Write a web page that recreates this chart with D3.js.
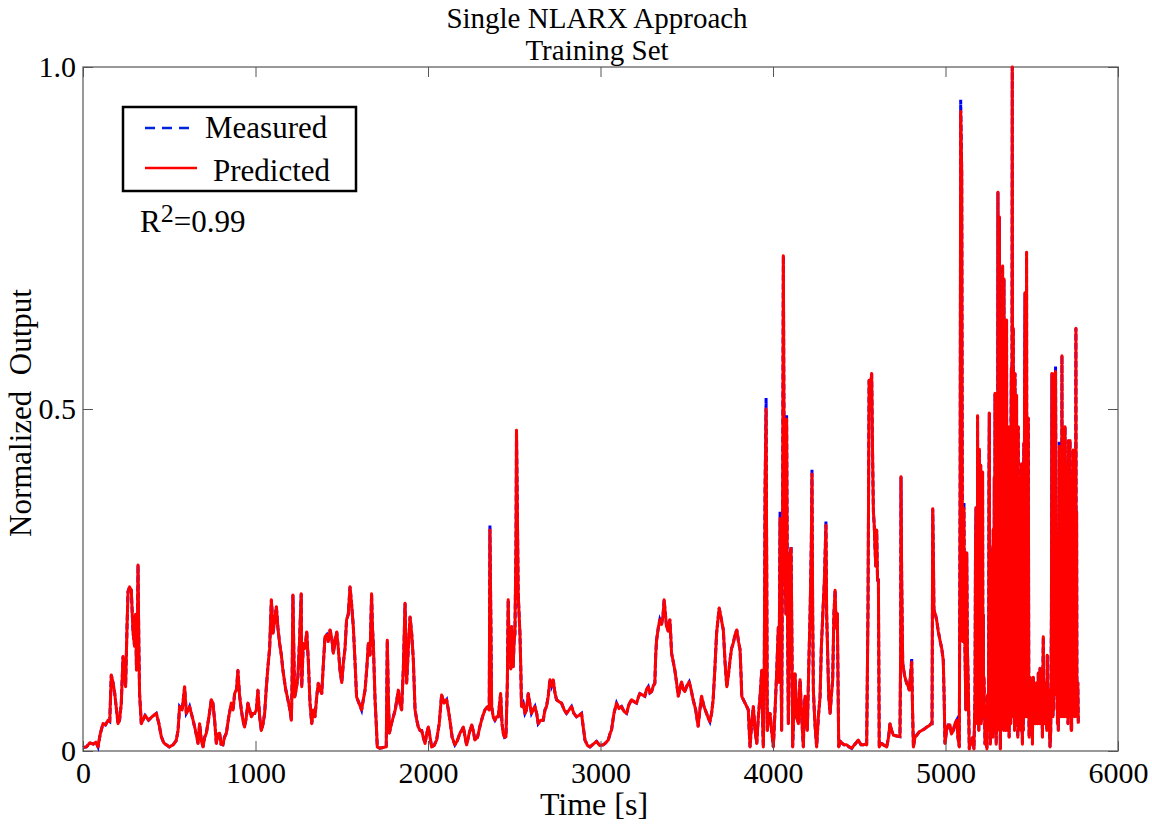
<!DOCTYPE html>
<html>
<head>
<meta charset="utf-8">
<script src="https://cdn.jsdelivr.net/npm/d3@7"></script>
<style>
  html, body { margin: 0; padding: 0; background: #fff; }
  svg { display: block; font-family: "Liberation Serif", "Times New Roman", serif; }
</style>
</head>
<body>
<svg id="chart" width="1152" height="832"></svg>
<script>
// time stamps [s]
const timeSec = [
  // 0 - 1265
  0, 20, 40, 60, 75, 87, 100, 116, 130, 145, 155, 164, 174, 184, 203, 212, 222, 232, 240, 247,
  255, 261, 270, 280, 290, 299, 305, 310, 315, 319, 324, 328, 338, 360, 380, 400, 425, 440, 454, 468,
  483, 500, 522, 540, 551, 560, 575, 589, 599, 610, 618, 638, 652, 667, 676, 686, 696, 705, 715, 730,
  744, 753, 763, 773, 782, 792, 800, 811, 820, 831, 845, 860, 870, 879, 890, 898, 908, 918, 927, 937,
  947, 956, 966, 976, 985, 995, 1005, 1014, 1024, 1034, 1044, 1053, 1062, 1072, 1082, 1092, 1097, 1101, 1111, 1121,
  1130, 1140, 1150, 1159, 1175, 1188, 1200, 1208, 1212, 1217, 1222, 1227, 1236, 1246, 1255, 1265,
  // 1268 - 2514
  1268, 1277, 1287, 1297, 1306, 1316, 1326, 1335, 1345, 1355, 1364, 1374, 1384, 1394, 1403, 1413, 1422, 1432, 1442, 1451,
  1461, 1471, 1480, 1490, 1500, 1509, 1519, 1528, 1538, 1548, 1557, 1567, 1577, 1586, 1600, 1615, 1625, 1635, 1645, 1654,
  1664, 1673, 1678, 1683, 1693, 1700, 1706, 1720, 1740, 1758, 1764, 1770, 1776, 1788, 1799, 1810, 1828, 1837, 1847, 1857,
  1867, 1872, 1876, 1886, 1896, 1906, 1915, 1925, 1935, 1944, 1954, 1963, 1973, 1983, 1992, 2002, 2012, 2021, 2035, 2050,
  2065, 2079, 2093, 2108, 2118, 2127, 2140, 2156, 2170, 2185, 2195, 2205, 2215, 2224, 2238, 2253, 2262, 2272, 2287, 2301,
  2316, 2330, 2345, 2355, 2359, 2364, 2369, 2378, 2388, 2398, 2407, 2421, 2429, 2436, 2444, 2452, 2460, 2465, 2470, 2475,
  2480, 2485, 2490, 2494, 2499, 2504, 2510, 2513,
  // 2518 - 3695
  2518, 2523, 2528, 2533, 2538, 2542, 2552, 2562, 2571, 2581, 2590, 2600, 2610, 2620, 2630, 2639, 2654, 2668, 2678, 2687,
  2697, 2707, 2716, 2726, 2736, 2745, 2760, 2774, 2790, 2803, 2818, 2832, 2846, 2861, 2875, 2890, 2900, 2910, 2925, 2939,
  2958, 2977, 2996, 3016, 3030, 3045, 3055, 3064, 3078, 3093, 3107, 3122, 3136, 3151, 3165, 3180, 3195, 3209, 3219, 3228,
  3243, 3257, 3267, 3277, 3286, 3296, 3306, 3315, 3320, 3325, 3335, 3344, 3354, 3363, 3369, 3376, 3383, 3393, 3402, 3407,
  3412, 3422, 3431, 3441, 3451, 3460, 3470, 3480, 3489, 3500, 3514, 3525, 3537, 3552, 3566, 3576, 3586, 3600, 3615, 3625,
  3634, 3644, 3653, 3663, 3673, 3680, 3688, 3695,
  // 3712 - 5088
  3712, 3722, 3732, 3741, 3751, 3760, 3770, 3780, 3790, 3800, 3809, 3815, 3819, 3828, 3838, 3848, 3857, 3862, 3867, 3876,
  3886, 3896, 3906, 3915, 3925, 3935, 3940, 3944, 3949, 3954, 3960, 3963, 3967, 3975, 3983, 3992, 4002, 4012, 4021, 4031,
  4035, 4041, 4046, 4050, 4055, 4060, 4065, 4070, 4075, 4079, 4084, 4089, 4094, 4099, 4105, 4110, 4114, 4121, 4128, 4137,
  4147, 4152, 4157, 4166, 4176, 4181, 4186, 4192, 4199, 4207, 4215, 4222, 4226, 4230, 4234, 4243, 4253, 4263, 4273, 4280,
  4288, 4298, 4307, 4311, 4315, 4323, 4331, 4338, 4346, 4353, 4360, 4366, 4373, 4377, 4381, 4390, 4398, 4412, 4427, 4441,
  4456, 4475, 4495, 4510, 4524, 4535, 4543, 4551, 4557, 4565, 4572, 4578, 4582, 4587, 4591, 4596, 4601, 4606, 4611, 4614,
  4616, 4623, 4630, 4645, 4659, 4670, 4678, 4688, 4698, 4717, 4736, 4740, 4742, 4746, 4752, 4763, 4775, 4783, 4790, 4797,
  4804, 4809, 4814, 4823, 4833, 4848, 4862, 4877, 4891, 4906, 4916, 4922, 4926, 4930, 4933, 4941, 4949, 4958, 4968, 4978,
  4987, 4992, 4997, 5006, 5016, 5026, 5035, 5045, 5055, 5065, 5072, 5080, 5085, 5088,
  // 5094 - 5770
  5094, 5099, 5103, 5107, 5110, 5113, 5118, 5123, 5127, 5132,
  5138, 5145, 5152, 5158, 5165, 5171, 5174, 5177, 5179, 5181,
  5184, 5186, 5188, 5191, 5193, 5196, 5198, 5200, 5202, 5204,
  5207, 5209, 5212, 5215, 5217, 5219, 5221, 5223, 5229, 5235,
  5240, 5244, 5249, 5252, 5254, 5256, 5258, 5260, 5262, 5264,
  5266, 5269, 5271, 5273, 5275, 5277, 5280, 5283, 5285, 5287,
  5290, 5292, 5294, 5297, 5300, 5302, 5304, 5306, 5308, 5310,
  5312, 5315, 5318, 5321, 5323, 5325, 5327, 5329, 5331, 5333,
  5335, 5337, 5339, 5341, 5343, 5345, 5347, 5350, 5352, 5354,
  5356, 5359, 5361, 5364, 5366, 5369, 5371, 5374, 5376, 5378,
  5380, 5382, 5384, 5387, 5390, 5393, 5395, 5398, 5400, 5403,
  5405, 5407, 5410, 5412, 5414, 5417, 5419, 5422, 5424, 5427,
  5429, 5432, 5434, 5436, 5438, 5441, 5443, 5446, 5448, 5451,
  5454, 5456, 5458, 5461, 5463, 5465, 5468, 5470, 5472, 5475,
  5477, 5480, 5483, 5485, 5488, 5490, 5493, 5495, 5497, 5499,
  5502, 5504, 5507, 5509, 5512, 5514, 5517, 5519, 5522, 5524,
  5527, 5531, 5534, 5538, 5541, 5543, 5546, 5548, 5550, 5552,
  5555, 5557, 5560, 5562, 5564, 5567, 5570, 5572, 5575, 5577,
  5580, 5584, 5587, 5590, 5593, 5596, 5599, 5602, 5606, 5610,
  5614, 5617, 5619, 5621, 5623, 5626, 5628, 5631, 5634, 5636,
  5638, 5641, 5644, 5647, 5649, 5652, 5654, 5657, 5660, 5662,
  5664, 5667, 5669, 5671, 5673, 5675, 5677, 5679, 5681, 5683,
  5686, 5688, 5691, 5693, 5695, 5697, 5700, 5702, 5705, 5707,
  5710, 5712, 5715, 5717, 5720, 5722, 5724, 5726, 5729, 5731,
  5734, 5736, 5739, 5741, 5744, 5746, 5749, 5751, 5754, 5756,
  5758, 5760, 5762, 5764, 5767, 5770
]

// predicted (normalized) output at each time stamp
const predicted = [
  // 0 - 1265
  .005, .006, .012, .010, .013, .006, .025, .040, .038, .045, .043, .111, .100, .084, .040, .045, .070, .138, .120, .094,
  .180, .233, .240, .235, .174, .153, .200, .118, .172, .272, .150, .084, .040, .052, .045, .050, .055, .040, .021, .012,
  .009, .006, .009, .015, .030, .065, .060, .094, .055, .060, .065, .045, .030, .011, .040, .015, .006, .020, .026, .050,
  .075, .070, .045, .011, .025, .026, .010, .009, .020, .026, .050, .070, .060, .084, .090, .118, .080, .060, .045, .035,
  .050, .070, .060, .050, .055, .055, .060, .089, .050, .030, .040, .055, .090, .123, .150, .221, .200, .172, .190, .211,
  .180, .157, .140, .118, .090, .075, .060, .045, .100, .228, .150, .079, .090, .109, .160, .230,
  // 1268 - 2514
  .094, .157, .150, .174, .133, .070, .040, .060, .050, .080, .099, .090, .084, .130, .167, .170, .160, .177, .165, .143,
  .160, .174, .150, .118, .100, .128, .150, .192, .200, .240, .215, .182, .130, .079, .070, .060, .075, .089, .120, .157,
  .140, .230, .180, .157, .075, .040, .006, .004, .005, .006, .162, .080, .026, .040, .050, .060, .089, .070, .060, .120,
  .216, .150, .099, .150, .196, .170, .133, .060, .045, .035, .030, .030, .020, .011, .025, .035, .020, .006, .008, .016,
  .040, .082, .070, .075, .060, .045, .020, .009, .015, .026, .030, .035, .020, .009, .025, .038, .030, .016, .020, .036,
  .050, .060, .065, .060, .323, .200, .065, .050, .045, .050, .050, .084, .040, .026, .020, .021, .100, .221, .150, .162,
  .120, .182, .150, .123, .160, .172, .300, .469,
  // 2518 - 3695
  .350, .230, .200, .172, .120, .065, .070, .055, .060, .084, .070, .055, .060, .065, .055, .040, .045, .045, .060, .065,
  .080, .104, .095, .104, .085, .075, .072, .070, .060, .055, .060, .065, .055, .050, .052, .055, .035, .016, .008, .006,
  .010, .014, .008, .009, .012, .016, .025, .031, .055, .070, .062, .065, .058, .055, .068, .075, .072, .070, .078, .084,
  .082, .080, .090, .094, .085, .087, .095, .099, .140, .162, .180, .192, .185, .200, .221, .200, .182, .175, .192, .170,
  .143, .130, .118, .100, .080, .090, .101, .090, .087, .095, .101, .090, .075, .060, .036, .060, .080, .065, .055, .048,
  .043, .055, .075, .120, .172, .190, .209, .200,
  // 3712 - 5088
  .177, .130, .094, .110, .133, .150, .158, .170, .177, .160, .148, .110, .080, .075, .070, .065, .060, .030, .006, .040,
  .065, .030, .011, .050, .080, .118, .040, .006, .100, .382, .500, .300, .030, .050, .055, .030, .006, .060, .113, .181,
  .100, .340, .150, .030, .300, .724, .400, .274, .200, .485, .200, .040, .150, .284, .296, .150, .006, .060, .113, .050,
  .040, .080, .104, .050, .006, .060, .080, .050, .030, .120, .201, .300, .405, .200, .089, .040, .006, .050, .080, .150,
  .196, .250, .330, .200, .162, .080, .055, .080, .104, .200, .235, .180, .201, .100, .006, .014, .012, .009, .009, .006,
  .004, .010, .016, .009, .009, .010, .009, .215, .542, .530, .552, .420, .350, .330, .298, .270, .323, .250, .250, .100,
  .006, .010, .011, .008, .006, .020, .040, .030, .023, .022, .021, .150, .401, .250, .128, .110, .099, .095, .089, .110,
  .130, .060, .006, .020, .023, .028, .030, .032, .035, .037, .040, .040, .354, .280, .206, .200, .191, .175, .162, .150,
  .133, .080, .011, .030, .038, .038, .025, .030, .040, .045, .020, .006, .400, .935,
  // 5094 - 5770
  .846, .160, .300, .355, .200, .147, .060, .290, .150, .095,
  .003, .015, .010, .020, .003, .080, .300, .356, .050, .350,
  .040, .490, .050, .400, .030, .441, .060, .400, .050, .418,
  .040, .400, .050, .408, .060, .200, .050, .108, .010, .030,
  .003, .082, .030, .400, .494, .050, .300, .010, .147, .250,
  .040, .290, .050, .280, .020, .324, .050, .400, .030, .523,
  .060, .350, .010, .095, .030, .300, .817, .100, .450, .060,
  .781, .100, .003, .090, .380, .487, .050, .420, .709, .080,
  .450, .030, .690, .100, .150, .400, .062, .030, .450, .630,
  .050, .440, .030, .474, .060, .020, .400, .193, .450, .040,
  .480, .560, .100, 1.00, .050, .618, .080, .450, .030, .552,
  .070, .460, .050, .520, .040, .450, .020, .474, .060, .400,
  .050, .173, .380, .030, .350, .420, .050, .010, .300, .030,
  .450, .120, .500, .670, .050, .550, .060, .729, .050, .450,
  .080, .487, .060, .020, .100, .108, .040, .100, .030, .082,
  .090, .010, .100, .108, .040, .100, .050, .090, .040, .095,
  .050, .100, .040, .114, .050, .100, .040, .121, .050, .100,
  .040, .095, .050, .020, .100, .167, .050, .100, .040, .082,
  .050, .100, .030, .140, .050, .090, .040, .040, .006, .030,
  .200, .552, .100, .400, .050, .450, .060, .552, .100, .450,
  .555, .300, .082, .200, .040, .100, .030, .200, .445, .050,
  .400, .356, .050, .380, .060, .578, .080, .400, .050, .062,
  .300, .050, .400, .474, .060, .400, .050, .420, .060, .400,
  .040, .454, .060, .400, .050, .454, .060, .400, .030, .030,
  .300, .050, .350, .440, .060, .400, .050, .395, .100, .618,
  .080, .350, .060, .050, .100, .040
]

// measured output is the same trace except where it pokes above the prediction
const measuredPeaks = [
  [2359, .330], [3960, .516], [4041, .350], [4079, .492], [4105, .300], [4226, .412],
  [4307, .336], [4804, .136], [5088, .952], [5107, .364], [5638, .562], [5660, .452]
]

const xTicks = [0, 1000, 2000, 3000, 4000, 5000, 6000]
const yTicks = [0, 0.5, 1]
const yTickLabels = ['0', '0.5', '1.0']

const n = Math.min(timeSec.length, predicted.length)
const peakMap = new Map(measuredPeaks)
const predData = d3.range(n).map(i => ({ t: timeSec[i], v: predicted[i] }))
const measData = predData.map(d => ({ t: d.t, v: peakMap.has(d.t) ? peakMap.get(d.t) : d.v }))

const svg = d3.select('#chart')
const plotL = 83, plotR = 1118, plotT = 67, plotB = 751

const x = d3.scaleLinear().domain([0, 6000]).range([plotL, plotR])
const y = d3.scaleLinear().domain([0, 1]).range([plotB, plotT])

// frame
svg.append('rect')
  .attr('x', plotL).attr('y', plotT)
  .attr('width', plotR - plotL).attr('height', plotB - plotT)
  .attr('fill', 'none')
  .attr('stroke', '#777')
  .attr('stroke-width', 1.5)

// data
const line = d3.line().x(d => x(d.t)).y(d => y(d.v))

svg.append('path')
  .datum(measData)
  .attr('d', line)
  .attr('fill', 'none')
  .attr('stroke', '#0000ff')
  .attr('stroke-width', 3)
  .attr('stroke-dasharray', '6,3')

svg.append('path')
  .datum(predData)
  .attr('d', line)
  .attr('fill', 'none')
  .attr('stroke', '#ff0000')
  .attr('stroke-width', 3)
  .attr('stroke-linejoin', 'round')

// axes
const xaxis = d3.axisBottom(x).tickValues(xTicks).tickSizeInner(-10).tickSizeOuter(0).tickPadding(11)
  .tickFormat(d3.format('d'))
const xg = svg.append('g')
  .attr('transform', `translate(0, ${plotB})`)
  .call(xaxis)
xg.select('.domain').remove()
xg.selectAll('line').attr('stroke', '#555')
xg.selectAll('text').style('font-size', '30px').attr('fill', '#000')
  .attr('font-family', '"Liberation Serif", serif')

const xtop = svg.append('g')
  .attr('transform', `translate(0, ${plotT})`)
  .call(d3.axisTop(x).tickValues(xTicks).tickSizeInner(-10).tickSizeOuter(0).tickFormat(''))
xtop.select('.domain').remove()
xtop.selectAll('line').attr('stroke', '#555')

const yaxis = d3.axisLeft(y).tickValues(yTicks).tickSizeInner(-10).tickSizeOuter(0).tickPadding(7)
  .tickFormat((d, i) => yTickLabels[i])
const yg = svg.append('g')
  .attr('transform', `translate(${plotL}, 0)`)
  .call(yaxis)
yg.select('.domain').remove()
yg.selectAll('line').attr('stroke', '#555')
yg.selectAll('text').style('font-size', '30px').attr('fill', '#000')
  .attr('font-family', '"Liberation Serif", serif')

const yright = svg.append('g')
  .attr('transform', `translate(${plotR}, 0)`)
  .call(d3.axisRight(y).tickValues(yTicks).tickSizeInner(-10).tickSizeOuter(0).tickFormat(''))
yright.select('.domain').remove()
yright.selectAll('line').attr('stroke', '#555')

// titles
svg.append('text')
  .attr('x', 597).attr('y', 28).attr('text-anchor', 'middle')
  .style('font-size', '29px')
  .text('Single NLARX Approach')
svg.append('text')
  .attr('x', 597).attr('y', 60).attr('text-anchor', 'middle')
  .style('font-size', '29px')
  .text('Training Set')

svg.append('text')
  .attr('x', 594).attr('y', 815)
  .attr('text-anchor', 'middle')
  .style('font-size', '32px')
  .text('Time [s]')

svg.append('text')
  .attr('transform', 'translate(31, 413) rotate(-90)')
  .attr('text-anchor', 'middle')
  .style('font-size', '31px')
  .style('white-space', 'pre')
  .text('Normalized  Output')

// legend
const lg = svg.append('g')
lg.append('rect')
  .attr('x', 123).attr('y', 107).attr('width', 233).attr('height', 84)
  .attr('fill', '#fff').attr('stroke', '#000').attr('stroke-width', 2.5)
lg.append('line')
  .attr('x1', 145).attr('x2', 193).attr('y1', 128).attr('y2', 128)
  .attr('stroke', '#0022dd').attr('stroke-width', 2.5).attr('stroke-dasharray', '10,7')
lg.append('text').attr('x', 205).attr('y', 138).style('font-size', '31px').text('Measured')
lg.append('line')
  .attr('x1', 145).attr('x2', 197).attr('y1', 168).attr('y2', 168)
  .attr('stroke', '#ff0000').attr('stroke-width', 2.5)
lg.append('text').attr('x', 213).attr('y', 181).style('font-size', '31px').text('Predicted')

// R^2 annotation
const r2 = svg.append('text').attr('x', 140).attr('y', 232).style('font-size', '31px')
r2.append('tspan').text('R')
r2.append('tspan').attr('dy', -10).style('font-size', '26px').text('2')
r2.append('tspan').attr('dy', 10).text('=0.99')
</script>
</body>
</html>
